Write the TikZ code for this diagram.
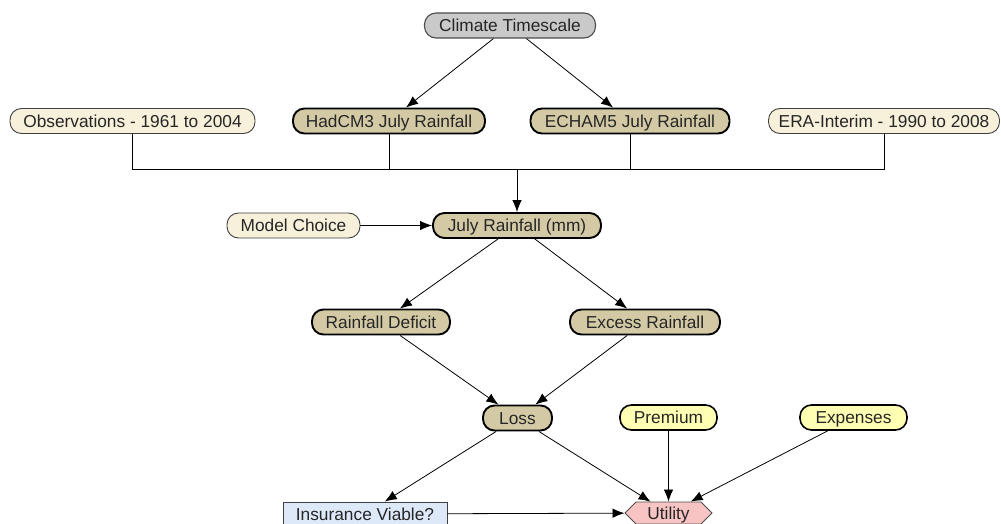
\documentclass[tikz,border=0pt]{standalone}
\usepackage{fontspec}
\setmainfont{Liberation Sans}
\usetikzlibrary{arrows.meta,shapes.symbols}
\definecolor{greyfill}{HTML}{C9C9C9}
\definecolor{creamfill}{HTML}{F7F0DA}
\definecolor{khakifill}{HTML}{D3CAA5}
\definecolor{yellowfill}{HTML}{FFFFB3}
\definecolor{bluefill}{HTML}{DDE8F8}
\definecolor{pinkfill}{HTML}{F8C3C3}
\definecolor{inktext}{HTML}{262626}
\tikzset{
  label font/.style={text=inktext, font=\fontsize{17.3}{20}\selectfont,
    text height=12.5pt, text depth=0pt},
  base/.style={draw, rectangle, rounded corners=11.5pt, minimum height=25pt,
    inner sep=0pt, label font},
  chance/.style={base, fill=creamfill, line width=0.9pt, draw=black!75},
  climate/.style={base, fill=greyfill, line width=1.1pt, draw=black!70},
  model/.style={base, fill=khakifill, line width=1.9pt},
  cost/.style={base, fill=yellowfill, line width=1.6pt},
  decision/.style={draw=black!75, fill=bluefill, line width=0.9pt, rectangle,
    minimum height=24pt, inner sep=0pt, label font},
  utility/.style={draw=black!70, fill=pinkfill, line width=0.9pt, shape=signal,
    signal to=west and east, minimum height=22pt, inner sep=0pt, label font},
  link/.style={line width=0.8pt, -{Latex[length=12pt,width=9.5pt]}},
  wire/.style={line width=0.8pt}
}
\begin{document}
\begin{tikzpicture}[x=1pt,y=-1pt]
\useasboundingbox (0,0) rectangle (1001,524);

% nodes
\node[climate, minimum width=171pt] (clim) at (510,25.5) {Climate Timescale};
\node[chance, minimum width=245pt] (obs) at (132.5,121) {Observations - 1961 to 2004};
\node[model, minimum width=192pt] (had) at (389,121) {HadCM3 July Rainfall};
\node[model, minimum width=199pt] (ech) at (630,121) {ECHAM5 July Rainfall};
\node[chance, minimum width=231pt] (era) at (884,121) {ERA-Interim - 1990 to 2008};
\node[chance, minimum width=133pt] (choice) at (293.5,225.5) {Model Choice};
\node[model, minimum width=168pt] (july) at (517,225.5) {July Rainfall (mm)};
\node[model, minimum width=138pt] (deficit) at (381,322) {Rainfall Deficit};
\node[model, minimum width=150pt] (excess) at (645,322) {Excess Rainfall};
\node[model, minimum width=69pt] (loss) at (517.5,418) {Loss};
\node[cost, minimum width=97pt] (premium) at (668.5,417.5) {Premium};
\node[cost, minimum width=107pt] (expenses) at (853.5,417.5) {Expenses};
\node[decision, minimum width=164pt] (viable) at (365,514) {Insurance Viable?};
\node[utility, minimum width=87pt] (util) at (668.5,513) {Utility};

% data sources joined on a common bus
\coordinate (bus) at (517,169);
\draw[wire] (obs.south) |- (bus);
\draw[wire] (era.south) |- (bus);
\draw[wire] (had.south) -- (had.south |- bus);
\draw[wire] (ech.south) -- (ech.south |- bus);
\draw[link] (bus) -- (july);

% dependencies
\draw[link] (clim) -- (had);
\draw[link] (clim) -- (ech);
\draw[link] (choice) -- (july);
\draw[link] (july) -- (deficit);
\draw[link] (july) -- (excess);
\draw[link] (deficit) -- (loss);
\draw[link] (excess) -- (loss);
\draw[link] (loss) -- (viable);
\draw[link] (loss) -- (util);
\draw[link] (premium) -- (util);
\draw[link] (expenses) -- (util);
\draw[link] (viable) -- (util);
\end{tikzpicture}
\end{document}
